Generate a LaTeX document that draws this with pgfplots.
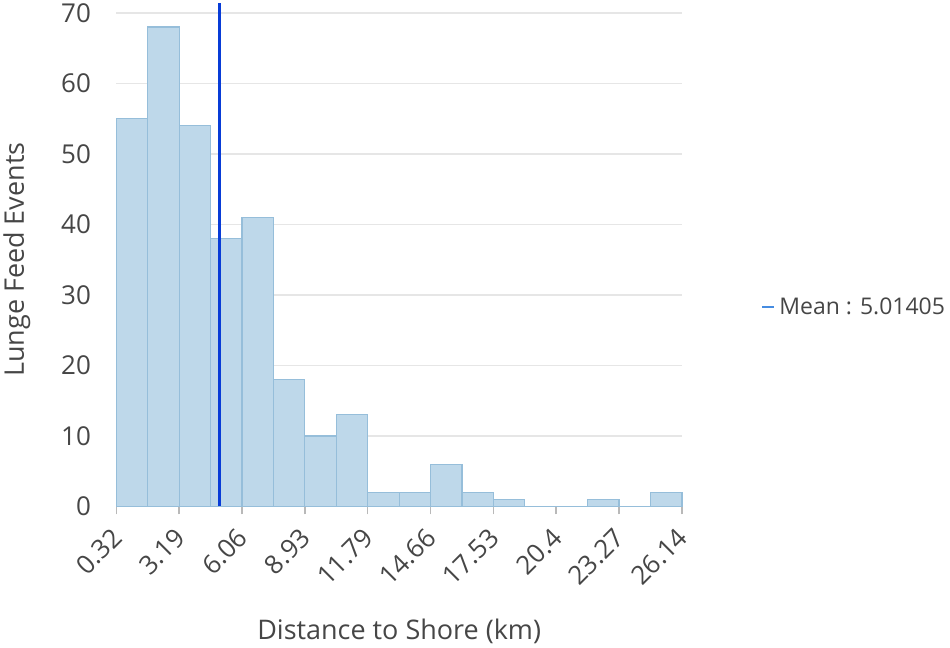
\documentclass[border=0pt]{standalone}
\usepackage{fontspec}
\setmainfont{Open Sans}
\usepackage{pgfplots}
\pgfplotsset{compat=1.18}

\definecolor{barfill}{RGB}{190,216,234}
\definecolor{baredge}{RGB}{150,190,218}
\definecolor{meanblue}{RGB}{8,60,215}
\definecolor{legblue}{RGB}{70,140,225}
\definecolor{gridgray}{RGB}{230,230,230}
\definecolor{axgray}{RGB}{185,185,185}
\definecolor{txt}{RGB}{70,70,70}

\begin{document}
\begin{tikzpicture}
\begin{axis}[
    scale only axis,
    width=566pt,
    height=494pt,
    xmin=0.32, xmax=26.14,
    ymin=0, ymax=70,
    axis x line*=bottom,
    axis y line*=left,
    x axis line style={axgray, line width=1.5pt},
    y axis line style={draw=none},
    clip=false,
    xtick={0.32,3.19,6.06,8.93,11.79,14.66,17.53,20.4,23.27,26.14},
    xticklabels={0.32,3.19,6.06,8.93,11.79,14.66,17.53,20.4,23.27,26.14},
    x tick label style={xshift=-6pt, yshift=-9pt, rotate=45, anchor=north east,
        font=\fontsize{26}{30}\selectfont, text=txt, inner sep=2pt},
    y tick label style={xshift=-14pt, font=\fontsize{26}{30}\selectfont, text=txt},
    xtick style={axgray, line width=1.5pt},
    ytick style={draw=none},
    major tick length=8pt,
    tick align=outside,
    ytick={0,10,...,70},
    ymajorgrids,
    grid style={gridgray, line width=1.5pt},
    /pgf/number format/assume math mode=true,
    xlabel={Distance to Shore (km)},
    xlabel style={font=\fontsize{27}{32}\selectfont, text=txt, yshift=-26pt},
    ylabel={Lunge Feed Events},
    ylabel style={font=\fontsize{27}{32}\selectfont, text=txt, yshift=24pt},
    legend style={at={(1.135,0.405)}, anchor=west, draw=none, fill=none,
        font=\fontsize{23}{27}\selectfont, text=txt},
    legend image code/.code={\draw[legblue, line width=2pt] (0pt,0pt) -- (12pt,0pt);},
    legend cell align=left,
]
\addplot[ybar interval, fill=barfill, draw=baredge, line width=1.2pt, forget plot] coordinates {
    (0.3200,55) (1.7544,68) (3.1889,54) (4.6233,38) (6.0578,41) (7.4922,18)
    (8.9267,10) (10.3611,13) (11.7956,2) (13.2300,2) (14.6644,6) (16.0989,2)
    (17.5333,1) (18.9678,0) (20.4022,0) (21.8367,1) (23.2711,0) (24.7056,2)
    (26.1400,2)
};
\addplot[meanblue, line width=3pt] coordinates {(5.01405,0) (5.01405,71.4)};
\addlegendentry{\hspace{2pt}Mean : 5.01405}
\end{axis}
\end{tikzpicture}
\end{document}
